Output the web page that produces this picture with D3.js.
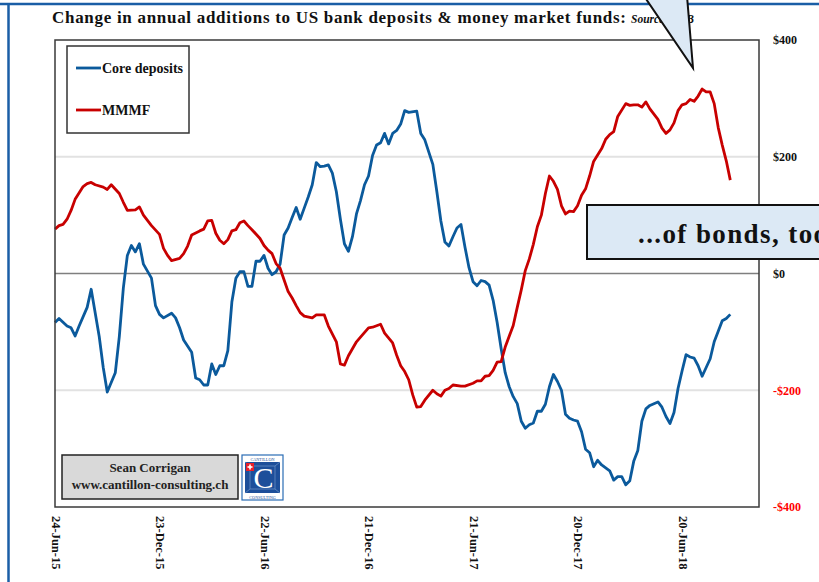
<!DOCTYPE html>
<html>
<head>
<meta charset="utf-8">
<script src="https://cdn.jsdelivr.net/npm/d3@7"></script>
<style>
  html, body { margin: 0; padding: 0; background: #fff; }
  svg { display: block; }
  text { font-family: "Liberation Serif", "Times New Roman", serif; }
</style>
</head>
<body>
<svg id="chart" width="819" height="582"></svg>
<script>
// Weekly series: [weeks since the first observation, $bn change in annual additions]
const startDate = "2015-06-24";
const endDate = "2018-11-01";

const coreDeposits = [
  [0,-84],[1,-77],[3,-90],[4,-93],[5,-107],[6,-90],[8,-58],[9,-27],[11,-108],[12,-161],
  [13,-203],[15,-170],[16,-108],[17,-25],[18,31],[19,48],[20,37],[21,51],[22,16],[24,-8],
  [25,-55],[26,-70],[27,-76],[29,-68],[30,-76],[31,-93],[32,-114],[34,-135],[35,-179],[36,-182],
  [37,-191],[38,-191],[39,-155],[40,-173],[41,-158],[42,-158],[43,-132],[44,-49],[45,-8],[46,3],
  [47,3],[48,-22],[49,-22],[50,21],[51,21],[52,31],[53,9],[54,-2],[55,3],[56,16],
  [57,66],[58,78],[59,96],[60,113],[61,93],[62,112],[63,131],[64,152],[65,190],[66,183],
  [67,184],[68,186],[69,172],[70,140],[71,93],[72,51],[73,38],[74,63],[75,102],[76,125],
  [77,152],[78,167],[79,202],[80,220],[81,224],[82,240],[83,222],[84,240],[85,245],[86,256],
  [87,279],[88,276],[90,278],[91,240],[92,229],[94,187],[95,140],[96,90],[97,54],[98,47],
  [99,63],[100,78],[101,84],[102,45],[103,10],[104,-14],[105,-21],[106,-12],[107,-14],[108,-20],
  [109,-46],[110,-84],[111,-129],[112,-170],[113,-194],[114,-211],[115,-223],[116,-253],[117,-265],[118,-259],
  [119,-256],[120,-236],[121,-236],[122,-224],[123,-194],[124,-173],[125,-185],[126,-200],[127,-241],[128,-248],
  [129,-251],[130,-253],[131,-271],[132,-301],[133,-307],[134,-331],[135,-320],[136,-328],[138,-338],[139,-354],
  [140,-348],[141,-348],[142,-362],[143,-355],[144,-321],[145,-303],[146,-253],[147,-232],[148,-226],[150,-220],
  [151,-229],[152,-245],[153,-257],[154,-238],[155,-197],[156,-167],[157,-139],[158,-143],[159,-145],[160,-158],
  [161,-176],[162,-161],[163,-146],[164,-117],[165,-99],[166,-81],[167,-77],[168,-70]
];

const mmmf = [
  [0,76],[1,82],[2,84],[3,93],[4,108],[5,127],[7,149],[8,154],[9,156],[10,152],
  [12,148],[13,144],[14,152],[16,137],[17,122],[18,108],[20,109],[21,114],[22,100],[24,82],
  [26,67],[27,43],[28,31],[29,22],[31,26],[32,34],[33,47],[34,66],[36,73],[37,76],
  [38,90],[39,91],[40,69],[41,57],[42,51],[43,58],[44,73],[45,75],[46,87],[47,90],
  [48,82],[49,75],[51,60],[52,48],[53,40],[54,34],[55,17],[56,9],[57,-11],[58,-31],
  [59,-42],[60,-55],[61,-67],[62,-73],[64,-76],[65,-71],[66,-71],[67,-71],[68,-90],[70,-117],
  [71,-155],[72,-157],[73,-141],[75,-117],[76,-109],[78,-93],[79,-92],[81,-87],[82,-102],[84,-119],
  [85,-140],[86,-158],[87,-168],[88,-182],[89,-208],[90,-229],[91,-228],[92,-217],[94,-200],[95,-206],
  [96,-210],[97,-200],[98,-197],[99,-191],[101,-193],[102,-193],[104,-188],[105,-184],[106,-184],[107,-176],
  [108,-175],[109,-166],[110,-152],[111,-151],[112,-126],[114,-89],[115,-58],[116,-28],[117,5],[118,25],
  [119,50],[120,80],[121,100],[122,137],[123,167],[124,158],[125,144],[126,116],[127,102],[128,107],
  [129,106],[130,116],[131,134],[132,145],[133,167],[134,192],[136,214],[137,230],[138,238],[139,243],
  [140,269],[142,291],[143,288],[144,289],[145,289],[146,285],[147,294],[148,282],[150,264],[151,249],
  [152,240],[153,246],[154,258],[155,279],[156,289],[157,291],[158,298],[159,295],[160,304],[161,316],
  [162,311],[163,311],[164,291],[165,250],[166,220],[167,193],[168,160]
];

const xTickDates = ["2015-06-24","2015-12-23","2016-06-22","2016-12-21","2017-06-21","2017-12-20","2018-06-20"];
const yTickValues = [-400, -200, 0, 200, 400];
const gridValues = [-200, 200];

const seriesNames = ["Core deposits", "MMMF"];
const seriesColors = ["#0b5a9c", "#c80000"];

const titleText = "Change in annual additions to US bank deposits & money market funds:";
const sourceText = "Source: FRB";
const calloutText = "...of bonds, too";
const creditLines = ["Sean Corrigan", "www.cantillon-consulting.ch"];

// ---------------------------------------------------------------
const parse = d3.timeParse("%Y-%m-%d");
const t0 = parse(startDate);
const toDate = w => d3.timeDay.offset(t0, w * 7);

const svg = d3.select("#chart");
const plot = { left: 55, right: 759, top: 40, bottom: 507 };

const x = d3.scaleTime().domain([t0, parse(endDate)]).range([plot.left, plot.right]);
const y = d3.scaleLinear().domain([-400, 400]).range([plot.bottom, plot.top]);

// outer page rules
svg.append("line").attr("x1", 0).attr("x2", 819).attr("y1", 4).attr("y2", 4)
  .attr("stroke", "#1a5ea6").attr("stroke-width", 2.5);
svg.append("line").attr("x1", 8.5).attr("x2", 8.5).attr("y1", 4).attr("y2", 582)
  .attr("stroke", "#1a5ea6").attr("stroke-width", 2.5);

// gridlines
svg.append("g").selectAll("line").data(gridValues).join("line")
  .attr("x1", plot.left).attr("x2", plot.right)
  .attr("y1", d => y(d)).attr("y2", d => y(d))
  .attr("stroke", "#e2e2e2").attr("stroke-width", 2);
svg.append("line")
  .attr("x1", plot.left).attr("x2", plot.right)
  .attr("y1", y(0)).attr("y2", y(0))
  .attr("stroke", "#7f7f7f").attr("stroke-width", 1.5);

// series lines
const line = d3.line().x(d => x(toDate(d[0]))).y(d => y(d[1]));
[coreDeposits, mmmf].forEach((s, i) => {
  svg.append("path").datum(s)
    .attr("d", line)
    .attr("fill", "none")
    .attr("stroke", seriesColors[i])
    .attr("stroke-width", 2.8)
    .attr("stroke-linejoin", "round");
});

// plot frame
svg.append("rect")
  .attr("x", plot.left).attr("y", plot.top)
  .attr("width", plot.right - plot.left).attr("height", plot.bottom - plot.top)
  .attr("fill", "none").attr("stroke", "#3a3a3a").attr("stroke-width", 1.5);

// right value axis
const yAxis = d3.axisRight(y)
  .tickValues(yTickValues)
  .tickSize(0)
  .tickPadding(14)
  .tickFormat(v => (v < 0 ? "-$" : "$") + Math.abs(v));
const ya = svg.append("g").attr("transform", `translate(${plot.right},0)`).call(yAxis);
ya.select(".domain").remove();
ya.selectAll("text")
  .attr("font-family", "Liberation Serif, serif")
  .attr("font-size", 12).attr("font-weight", "bold")
  .attr("fill", d => d < 0 ? "#ff0000" : "#111");

// bottom date axis, labels rotated to read downward
const xAxis = d3.axisBottom(x)
  .tickValues(xTickDates.map(parse))
  .tickSize(0)
  .tickFormat(d3.timeFormat("%d-%b-%y"));
const xa = svg.append("g").attr("transform", `translate(0,${plot.bottom})`).call(xAxis);
xa.select(".domain").remove();
xa.selectAll("text")
  .attr("font-family", "Liberation Serif, serif")
  .attr("font-size", 12.5).attr("font-weight", "bold").attr("fill", "#111")
  .attr("text-anchor", "start")
  .attr("dy", null)
  .attr("y", 0)
  .attr("dominant-baseline", "central")
  .attr("transform", "translate(0,9) rotate(90)");

// legend
const lg = svg.append("g");
lg.append("rect").attr("x", 67).attr("y", 46).attr("width", 122).attr("height", 87)
  .attr("fill", "#fff").attr("stroke", "#333").attr("stroke-width", 1.5);
seriesNames.forEach((name, i) => {
  const ly = 68 + i * 42;
  lg.append("line").attr("x1", 76).attr("x2", 101).attr("y1", ly).attr("y2", ly)
    .attr("stroke", seriesColors[i]).attr("stroke-width", 2.8);
  lg.append("text").attr("x", 102).attr("y", ly + 4.5)
    .attr("font-size", 14).attr("font-weight", "bold").attr("fill", "#111").text(name);
});

// author credit box
const cb = svg.append("g");
cb.append("rect").attr("x", 62).attr("y", 455).attr("width", 176).attr("height", 44)
  .attr("fill", "#d9d9d9").attr("stroke", "#222").attr("stroke-width", 1.5);
creditLines.forEach((t, i) => {
  cb.append("text").attr("x", 150).attr("y", 472 + i * 17)
    .attr("text-anchor", "middle").attr("font-size", 13).attr("font-weight", "bold")
    .attr("fill", "#222").text(t);
});

// logo mark
const lgo = svg.append("g").attr("transform", "translate(242,455)");
lgo.append("rect").attr("width", 41).attr("height", 45).attr("fill", "#fff")
  .attr("stroke", "#2a6db5").attr("stroke-width", 1.2);
lgo.append("rect").attr("x", 3).attr("y", 7).attr("width", 35).attr("height", 31).attr("fill", "#1d4f9a");
lgo.append("rect").attr("x", 8).attr("y", 11).attr("width", 25).attr("height", 23)
  .attr("fill", "none").attr("stroke", "#6f95c8").attr("stroke-width", 0.7);
[[3,7,8,11],[38,7,33,11],[3,38,8,34],[38,38,33,34]].forEach(p => {
  lgo.append("line").attr("x1", p[0]).attr("y1", p[1]).attr("x2", p[2]).attr("y2", p[3])
    .attr("stroke", "#6f95c8").attr("stroke-width", 0.7);
});
lgo.append("text").attr("x", 20.5).attr("y", 5.5).attr("text-anchor", "middle")
  .attr("font-size", 4.2).attr("fill", "#1d4f9a").text("CANTILLON");
lgo.append("text").attr("x", 20.5).attr("y", 43.5).attr("text-anchor", "middle")
  .attr("font-size", 4.2).attr("fill", "#1d4f9a").text("CONSULTING");
lgo.append("text").attr("x", 21.5).attr("y", 33).attr("text-anchor", "middle")
  .attr("font-size", 30).attr("fill", "#fff").text("C");
lgo.append("rect").attr("x", 4).attr("y", 8).attr("width", 8).attr("height", 8).attr("fill", "#e8202a");
lgo.append("rect").attr("x", 7.2).attr("y", 9.5).attr("width", 1.6).attr("height", 5).attr("fill", "#fff");
lgo.append("rect").attr("x", 5.5).attr("y", 11.2).attr("width", 5).attr("height", 1.6).attr("fill", "#fff");

// title and source
svg.append("text").attr("x", 52).attr("y", 23)
  .attr("font-size", 17).attr("font-weight", "bold").attr("fill", "#111")
  .attr("textLength", 574).attr("lengthAdjust", "spacing")
  .text(titleText);
svg.append("text").attr("x", 631).attr("y", 23)
  .attr("font-size", 11.5).attr("font-style", "italic").attr("font-weight", "bold").attr("fill", "#111")
  .text(sourceText);

// callout box with its text
svg.append("rect").attr("x", 587).attr("y", 205).attr("width", 260).attr("height", 54)
  .attr("fill", "#dce9f5").attr("stroke", "#111").attr("stroke-width", 2);
svg.append("text").attr("x", 638).attr("y", 243)
  .attr("font-size", 27).attr("font-weight", "bold").attr("fill", "#111")
  .attr("letter-spacing", 1.4)
  .text(calloutText);

// pointer of the callout above
svg.append("polygon")
  .attr("points", "644,-4 687,-4 693,68")
  .attr("fill", "#dce9f5").attr("stroke", "#111").attr("stroke-width", 2)
  .attr("stroke-linejoin", "miter");
</script>
</body>
</html>
